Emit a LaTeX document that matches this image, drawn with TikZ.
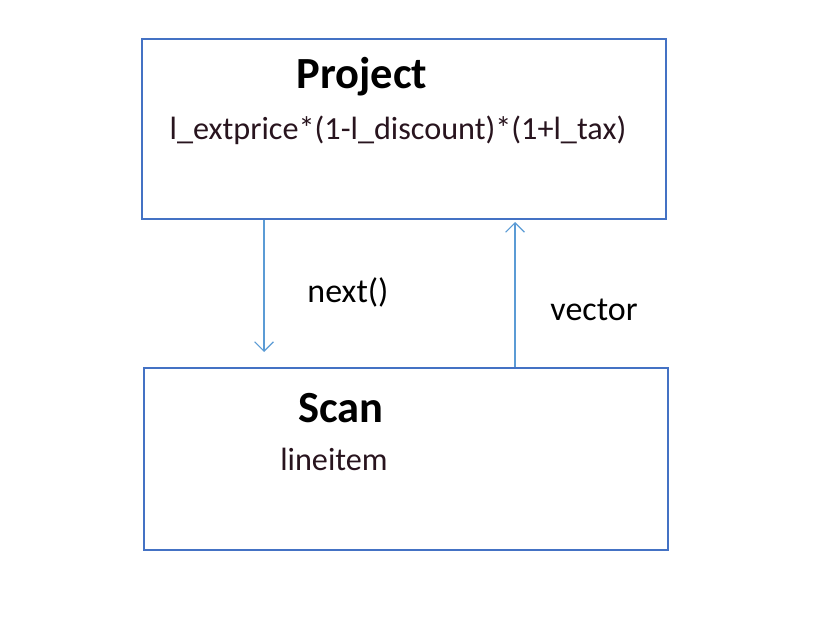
\documentclass[tikz,border=0pt]{standalone}
\usepackage{fontspec}
\setmainfont{Carlito}
\usetikzlibrary{arrows.meta}
\definecolor{boxc}{RGB}{68,114,196}
\definecolor{arrc}{RGB}{91,155,213}
\definecolor{txtc}{RGB}{40,20,30}
\tikzset{
  box/.style={draw=boxc, line width=1.2pt},
  conn/.style={draw=arrc, line width=1pt, -{Straight Barb[length=8pt,width=16pt]}},
  title/.style={font=\fontsize{38}{42}\selectfont\bfseries, text=black},
  sub/.style={font=\fontsize{27.5}{31}\selectfont, text=txtc},
  lab/.style={font=\fontsize{29}{33}\selectfont, text=black}
}
\begin{document}
\begin{tikzpicture}[x=0.03cm,y=-0.03cm]
\useasboundingbox (0,0) rectangle (825,621);
\draw[box] (142,39) rectangle (666,219);
\draw[box] (144,368) rectangle (668,550);
\node[title] (pt) at (362,77) {Project};
\node[sub] (pf) at (398,130) {l\_extprice*(1-l\_discount)*(1+l\_tax)};
\node[title] (st) at (341,408) {Scan};
\node[sub] (sl) at (334,459) {lineitem};
\coordinate (a1) at (264,220);
\coordinate (a2) at (264,352);
\coordinate (b1) at (515,367);
\coordinate (b2) at (515,222);
\draw[conn] (a1) -- (a2);
\draw[conn] (b1) -- (b2);
\node[lab] (nx) at (348,292) {next()};
\node[lab] (vc) at (594,310) {vector};
\end{tikzpicture}
\end{document}
